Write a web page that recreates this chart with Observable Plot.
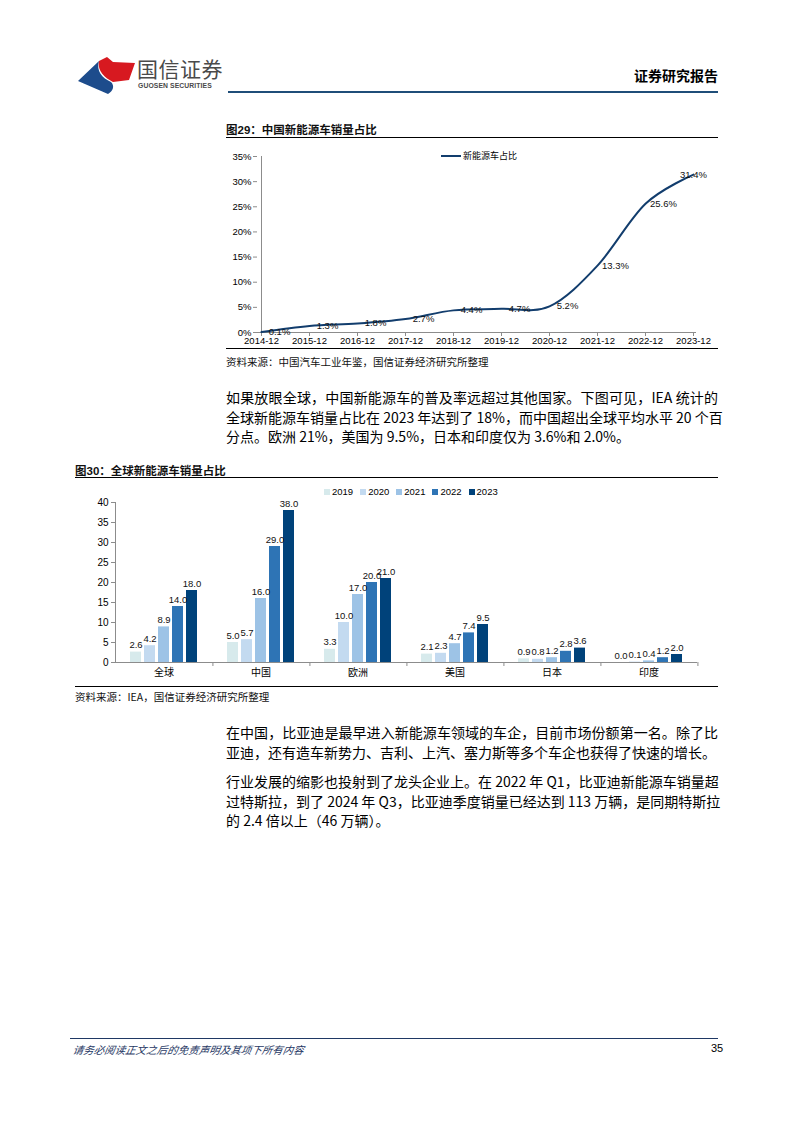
<!DOCTYPE html>
<html>
<head>
<meta charset="utf-8">
<script src="https://cdn.jsdelivr.net/npm/d3@7"></script>
<script src="https://cdn.jsdelivr.net/npm/@observablehq/plot@0.6"></script>
<style>
  html, body { margin: 0; padding: 0; background: #fff; }
  #page { position: relative; width: 793px; height: 1122px; overflow: hidden; background: #fff;
          font-family: "Liberation Sans", "Noto Sans CJK SC", sans-serif; color: #000; }
  .abs { position: absolute; }
  .hr { position: absolute; height: 0; }
  .figtitle { font-family: "Liberation Sans", "Noto Sans CJK SC", sans-serif; font-size: 11.5px; font-weight: bold; color: #111; white-space: nowrap; }
  .src { font-family: "Noto Sans CJK SC", sans-serif; font-size: 10.5px; color: #111; white-space: nowrap; }
  .para { font-family: "Noto Sans CJK SC", sans-serif; font-size: 14px; line-height: 19.5px; color: #000; width: 492px; }
  .para .line { white-space: nowrap; }
  .para .j { text-align: justify; text-align-last: justify; }
  .para .pp { margin: 0 0 10px 0; }
  .leg2item { display: inline-flex; align-items: center; margin-right: 7px; }
  .leg2item i { display: inline-block; width: 6px; height: 6px; margin-right: 2px; }
  svg { display: block; }
</style>
</head>
<body>
<div id="page">
  <!-- header -->
  <svg class="abs" style="left:78px;top:55px" width="58" height="40" viewBox="0 0 58 40">
    <path d="M0 26 L21 6 C18 16, 24 23, 33 27 C37 31, 35 36, 30 39 Z" fill="#1d4c8c"/>
    <path d="M21 6 L29 2 L35 7 L57 8 L51 25 L35 27 C27 23, 19 16, 21 6 Z" fill="#d71920"/>
  </svg>
  <div class="abs" style="left:137px;top:55px;font-family:'Noto Sans CJK SC';font-size:21px;color:#4a4a4a;letter-spacing:0.5px;white-space:nowrap;line-height:26px">国信证券</div>
  <div class="abs" style="left:138px;top:82px;font-family:'Liberation Sans';font-size:6.8px;font-weight:bold;color:#4a4a4a;white-space:nowrap;letter-spacing:0.1px">GUOSEN SECURITIES</div>
  <div class="abs" style="right:75px;top:65px;font-family:'Noto Sans CJK SC';font-size:14px;font-weight:bold;white-space:nowrap;line-height:20px">证券研究报告</div>
  <div class="hr" style="left:228px;width:490px;top:91px;border-top:2.5px solid #1f4e79"></div>

  <!-- figure 29 -->
  <div class="abs figtitle" style="left:226px;top:121px">图29：中国新能源车销量占比</div>
  <div class="hr" style="left:226px;width:492px;top:137px;border-top:1px solid #000"></div>
  <div id="c1" class="abs" style="left:226px;top:140px"></div>
  <div id="leg1" class="abs" style="left:441px;top:150px;display:flex;align-items:center;font-family:'Noto Sans CJK SC';font-size:9px;white-space:nowrap;line-height:12px"></div>
  <div class="hr" style="left:226px;width:492px;top:348px;border-top:1px solid #000"></div>
  <div class="abs src" style="left:226px;top:354px">资料来源：中国汽车工业年鉴，国信证券经济研究所整理</div>

  <div class="abs para" style="left:226px;top:388px">
    <div class="pp">
      <div class="line j">如果放眼全球，中国新能源车的普及率远超过其他国家。下图可见，IEA 统计的</div>
      <div class="line j">全球新能源车销量占比在 2023 年达到了 18%，而中国超出全球平均水平 20 个百</div>
      <div class="line">分点。欧洲 21%，美国为 9.5%，日本和印度仅为 3.6%和 2.0%。</div>
    </div>
  </div>

  <!-- figure 30 -->
  <div class="abs figtitle" style="left:75px;top:462px">图30：全球新能源车销量占比</div>
  <div class="hr" style="left:75px;width:643px;top:477px;border-top:1px solid #000"></div>
  <div id="leg2" class="abs" style="left:324px;top:486px;white-space:nowrap;font-family:'Liberation Sans';font-size:9.5px;line-height:12px"></div>
  <div id="c2" class="abs" style="left:75px;top:497px"></div>
  <div class="hr" style="left:75px;width:643px;top:686px;border-top:1px solid #000"></div>
  <div class="abs src" style="left:75px;top:689px">资料来源：IEA，国信证券经济研究所整理</div>

  <div class="abs para" style="left:226px;top:723px">
    <div class="pp">
      <div class="line j">在中国，比亚迪是最早进入新能源车领域的车企，目前市场份额第一名。除了比</div>
      <div class="line">亚迪，还有造车新势力、吉利、上汽、塞力斯等多个车企也获得了快速的增长。</div>
    </div>
    <div class="pp">
      <div class="line j">行业发展的缩影也投射到了龙头企业上。在 2022 年 Q1，比亚迪新能源车销量超</div>
      <div class="line j">过特斯拉，到了 2024 年 Q3，比亚迪季度销量已经达到 113 万辆，是同期特斯拉</div>
      <div class="line">的 2.4 倍以上（46 万辆）。</div>
    </div>
  </div>

  <!-- footer -->
  <div class="hr" style="left:70px;width:648px;top:1038px;border-top:1.5px solid #1f3864"></div>
  <div class="abs" style="left:73px;top:1042px;font-family:'Noto Sans CJK SC';font-size:10.5px;font-style:italic;color:#1f3864;white-space:nowrap;transform:skewX(-10deg);transform-origin:left">请务必阅读正文之后的免责声明及其项下所有内容</div>
  <div class="abs" style="left:711px;top:1042px;font-family:'Liberation Sans';font-size:11px;white-space:nowrap">35</div>
</div>

<script>
// ---------- Figure 29 data ----------
const months = ["2014-12","2015-12","2016-12","2017-12","2018-12","2019-12","2020-12","2021-12","2022-12","2023-12"];
const nevShare = [0.1, 1.3, 1.8, 2.7, 4.4, 4.7, 5.2, 13.3, 25.6, 31.4];
const shareTicks = [0, 5, 10, 15, 20, 25, 30, 35];
const seriesName1 = "新能源车占比";

// ---------- Figure 30 data ----------
const regions = ["全球", "中国", "欧洲", "美国", "日本", "印度"];
const years = ["2019", "2020", "2021", "2022", "2023"];
const v2019 = [2.6, 5.0, 3.3, 2.1, 0.9, 0.0];
const v2020 = [4.2, 5.7, 10.0, 2.3, 0.8, 0.1];
const v2021 = [8.9, 16.0, 17.0, 4.7, 1.2, 0.4];
const v2022 = [14.0, 29.0, 20.0, 7.4, 2.8, 1.2];
const v2023 = [18.0, 38.0, 21.0, 9.5, 3.6, 2.0];
const valueTicks = [0, 5, 10, 15, 20, 25, 30, 35, 40];
const yearColors = ["#d7eaec", "#c3daf0", "#9dc3e6", "#2e74b5", "#00427a"];

const font = "'Liberation Sans', 'Noto Sans CJK SC', sans-serif";
const axisGray = "#8c8c8c";
const lineColor = "#123d6d";

// ---------- Figure 29 ----------
const data1 = months.map((m, i) => ({month: m, share: nevShare[i]}));
const last1 = data1.length - 1;
const chart1 = Plot.plot({
  width: 492, height: 208,
  marginLeft: 31, marginRight: 22, marginTop: 16, marginBottom: 16,
  style: {fontFamily: font, fontSize: "9.5px", color: "#000", background: "transparent", overflow: "visible"},
  x: {type: "point", domain: months, padding: 0},
  y: {domain: [0, 35]},
  marks: [
    Plot.ruleY([0], {stroke: axisGray}),
    Plot.ruleX([months[0]], {stroke: axisGray}),
    Plot.axisY({ticks: shareTicks, tickSize: 4, tickPadding: 2, stroke: axisGray, fill: "#000", tickFormat: d => d + "%", label: null}),
    Plot.axisX({tickSize: 4, tickPadding: 1, stroke: axisGray, fill: "#000", label: null}),
    Plot.line(data1, {x: "month", y: "share", curve: "cardinal", stroke: lineColor, strokeWidth: 2}),
    Plot.text(data1.filter((d, i) => i < last1), {x: "month", y: "share", text: d => d.share.toFixed(1) + "%", dx: 18, fill: "#111"}),
    Plot.text(data1.filter((d, i) => i === last1), {x: "month", y: "share", text: d => d.share.toFixed(1) + "%", fill: "#111"})
  ]
});
document.getElementById("c1").append(chart1);

const leg1 = document.getElementById("leg1");
leg1.innerHTML = `<svg width="20" height="4" style="margin-right:2px"><line x1="0" x2="20" y1="2" y2="2" stroke="${lineColor}" stroke-width="2"/></svg><span>${seriesName1}</span>`;

// ---------- Figure 30 ----------
const series2 = [v2019, v2020, v2021, v2022, v2023];
const data2 = [];
regions.forEach((r, i) => years.forEach((y, j) => data2.push({region: r, year: y, value: series2[j][i]})));

const W2 = 643, ML2 = 37, MR2 = 19;
const fxBand = (W2 - ML2 - MR2) / regions.length;

const chart2 = Plot.plot({
  width: W2, height: 189,
  marginLeft: ML2, marginRight: MR2, marginTop: 5, marginBottom: 24,
  style: {fontFamily: font, fontSize: "9.5px", color: "#000", background: "transparent", overflow: "visible"},
  fx: {domain: regions, padding: 0},
  x: {domain: years, paddingInner: 0.2, paddingOuter: 0.86, axis: null},
  y: {domain: [0, 40]},
  color: {domain: years, range: yearColors},
  marks: [
    Plot.barY(data2, {fx: "region", x: "year", y: "value", fill: "year"}),
    Plot.text(data2, {fx: "region", x: "year", y: "value", text: d => d.value.toFixed(1), dy: -7, fill: "#111", fontSize: 9.5}),
    Plot.ruleY([0], {stroke: axisGray}),
    Plot.frame({anchor: "left", stroke: axisGray, fx: () => regions[0]}),
    Plot.axisY({ticks: valueTicks, tickSize: 4, tickPadding: 3, stroke: axisGray, fill: "#000", label: null, fontSize: 10}),
    Plot.axisFx({anchor: "bottom", tickSize: 0, tickPadding: 6, fill: "#000", label: null, fontSize: 10, fontFamily: "'Noto Sans CJK SC', sans-serif"}),
    Plot.axisFx({anchor: "bottom", tickSize: 4, tickFormat: () => "", stroke: axisGray, label: null, dx: fxBand / 2})
  ]
});
document.getElementById("c2").append(chart2);

// legend for figure 30, built from the same color scale
const colorScale = chart2.scale("color");
document.getElementById("leg2").innerHTML = colorScale.domain
  .map(y => `<span class="leg2item"><i style="background:${colorScale.apply(y)}"></i>${y}</span>`)
  .join("");
</script>
</body>
</html>
